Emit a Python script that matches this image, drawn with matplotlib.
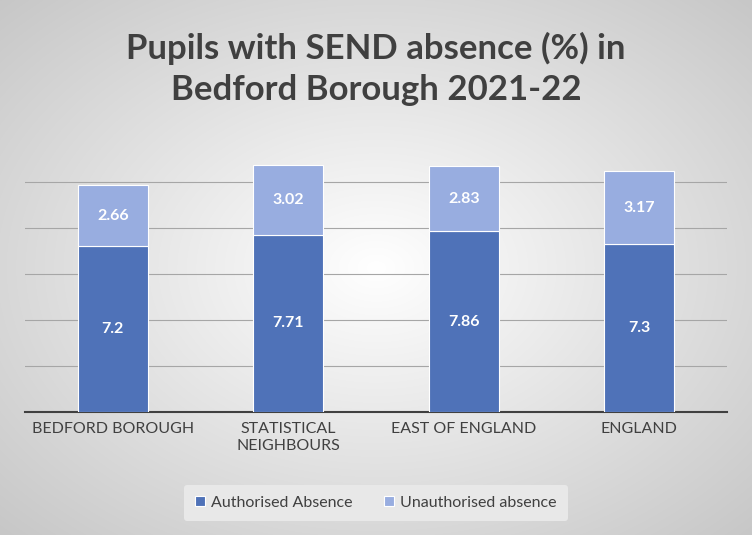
import numpy as np
import matplotlib
matplotlib.use("Agg")
import matplotlib.pyplot as plt

categories = ["BEDFORD BOROUGH", "STATISTICAL\nNEIGHBOURS", "EAST OF ENGLAND", "ENGLAND"]
authorised = [7.2, 7.71, 7.86, 7.3]
unauthorised = [2.66, 3.02, 2.83, 3.17]

plt.rcParams["font.family"] = ["Lato", "DejaVu Sans"]

W, H = 752, 535
fig = plt.figure(figsize=(W / 100, H / 100), dpi=100)

# radial grey background
bg = fig.add_axes([0, 0, 1, 1], zorder=-10)
yy, xx = np.mgrid[0:H, 0:W]
r = np.sqrt(((xx - W / 2) / (W / 2)) ** 2 + ((yy - H / 2) / (H / 2)) ** 2) / np.sqrt(2)
img = 1.0 - 0.22 * r
bg.imshow(np.dstack([img, img, img]), aspect="auto", extent=[0, 1, 0, 1])
bg.axis("off")

ax = fig.add_axes([25 / W, 1 - 412 / H, 702 / W, 276 / H])
ax.patch.set_alpha(0)
x = np.arange(len(categories))
b1 = ax.bar(x, authorised, width=0.4, color="#4f72b8", edgecolor="white", linewidth=0.8, zorder=3)
b2 = ax.bar(x, unauthorised, bottom=authorised, width=0.4, color="#98ade0",
            edgecolor="white", linewidth=0.8, zorder=3)
for i in range(len(x)):
    ax.text(x[i], authorised[i] / 2, f"{authorised[i]:g}", ha="center", va="center",
            color="white", fontsize=11.5, fontweight="bold", zorder=4)
    ax.text(x[i], authorised[i] + unauthorised[i] / 2, f"{unauthorised[i]:g}", ha="center",
            va="center", color="white", fontsize=11.5, fontweight="bold", zorder=4)

ax.set_xlim(-0.5, 3.5)
ax.set_ylim(0, 12)
ax.set_yticks([2, 4, 6, 8, 10])
ax.yaxis.grid(True, color="#a6a6a6", linewidth=0.8, zorder=0)
ax.set_yticklabels([])
ax.tick_params(left=False, bottom=False)
for s in ["top", "right", "left"]:
    ax.spines[s].set_visible(False)
ax.spines["bottom"].set_color("#404040")
ax.spines["bottom"].set_linewidth(1.5)
ax.set_xticks(x)
ax.set_xticklabels(categories, fontsize=11.5, color="#404040", linespacing=1.3)

fig.text(0.5, 1 - 69 / H, "Pupils with SEND absence (%) in\nBedford Borough 2021-22",
         ha="center", va="center", fontsize=25, fontweight="bold", color="#404040",
         linespacing=1.35)

leg = fig.legend([b1, b2], ["Authorised Absence", "Unauthorised absence"], loc="center",
                 bbox_to_anchor=(376 / W, 1 - 503 / H), ncol=2, frameon=True, fontsize=11.5,
                 handlelength=0.6, handleheight=0.6, columnspacing=2.0, handletextpad=0.4,
                 borderpad=0.7, borderaxespad=0)
leg.get_frame().set_facecolor("#e8e8e8")
leg.get_frame().set_edgecolor("none")
leg.get_frame().set_alpha(1)
for t in leg.get_texts():
    t.set_color("#404040")

fig.savefig("out.png", dpi=100)
